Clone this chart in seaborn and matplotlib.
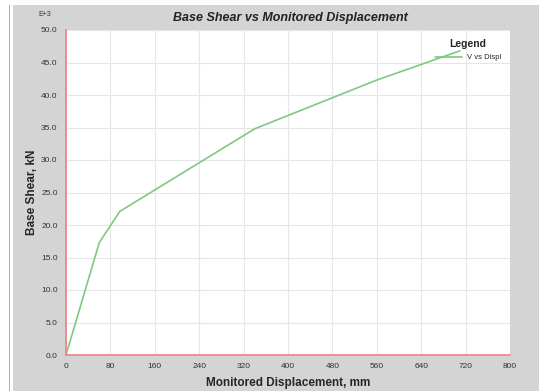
import matplotlib
matplotlib.use("Agg")
import matplotlib.pyplot as plt
import matplotlib.patches as mpatches
import seaborn as sns
import pandas as pd

displacement = [0, 60, 97, 340, 560, 710]
base_shear = [0.0, 17.3, 22.1, 34.8, 42.3, 46.8]
x_ticks = [0, 80, 160, 240, 320, 400, 480, 560, 640, 720, 800]
y_ticks = [0, 5, 10, 15, 20, 25, 30, 35, 40, 45, 50]

df = pd.DataFrame({"Displacement": displacement, "Shear": base_shear})

sns.set_style("white")
plt.rcParams['font.family'] = ['Liberation Sans', 'DejaVu Sans']

fig = plt.figure(figsize=(5.39, 3.91), dpi=100, facecolor="white")
fig.add_artist(mpatches.Rectangle((13/539, 0), 1 - 13/539, 1 - 5/391,
                                  transform=fig.transFigure, facecolor="#d4d4d4",
                                  edgecolor="none", zorder=-10))
fig.add_artist(mpatches.Rectangle((9/539, 0), 1/539, 1 - 5/391,
                                  transform=fig.transFigure, facecolor="#b0b0b0",
                                  edgecolor="none", zorder=-10))
ax = fig.add_axes([66/539, 1 - 355/391, 444/539, 325/391])
ax.set_facecolor("white")

sns.lineplot(data=df, x="Displacement", y="Shear", ax=ax, color="#80c880",
             linewidth=1.2, label="V vs Displ")

ax.set_xlim(0, 800)
ax.set_ylim(0, 50)
ax.set_xticks(x_ticks)
ax.set_yticks(y_ticks)
ax.set_xticklabels([str(t) for t in x_ticks], fontsize=6, color="#333333")
ax.set_yticklabels([f"{t:.1f}" for t in y_ticks], fontsize=6, color="#333333")
ax.tick_params(axis="both", length=3, width=0.6, color="#555555", pad=3)
ax.grid(True, color="#e6e6e6", linewidth=0.8)
ax.set_axisbelow(True)
for s in ["top", "right"]:
    ax.spines[s].set_visible(False)
for s in ["left", "bottom"]:
    ax.spines[s].set_color("#f08080")
    ax.spines[s].set_linewidth(1.2)

ax.set_xlabel("Monitored Displacement, mm", fontsize=8.5, fontweight="bold", labelpad=5)
ax.set_ylabel("Base Shear, kN", fontsize=8.5, fontweight="bold", labelpad=2)
fig.text(290/539, 1 - 18/391, "Base Shear vs Monitored Displacement", fontsize=9,
         fontweight="bold", fontstyle="italic", ha="center", va="center", color="#222222")
fig.text(45/539, 1 - 15/391, "E+3", fontsize=5, ha="center", va="center", color="#333333")

leg = ax.legend(loc="upper right", bbox_to_anchor=(0.99, 0.985), frameon=False,
                fontsize=5.5, title="Legend", handlelength=3.5, handletextpad=0.6,
                borderaxespad=0.2, labelspacing=0.6)
leg.get_title().set_fontweight("bold")
leg.get_title().set_fontsize(7.5)

fig.savefig("out.png", dpi=100, facecolor=fig.get_facecolor())
